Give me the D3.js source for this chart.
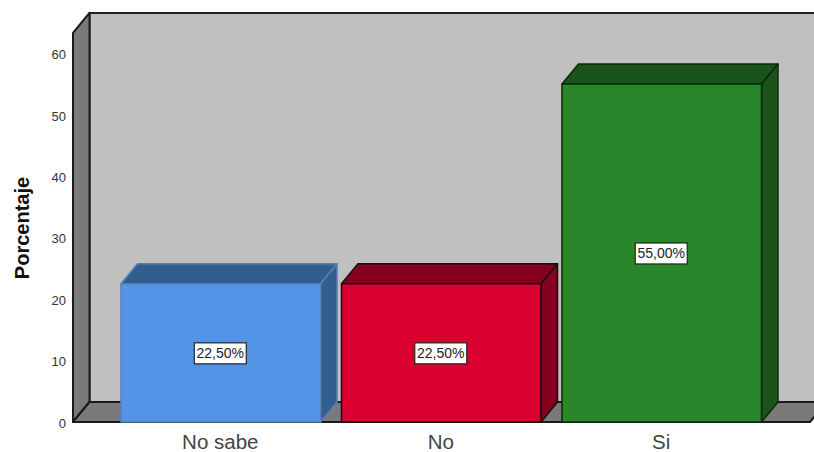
<!DOCTYPE html>
<html>
<head>
<meta charset="utf-8">
<script src="https://cdn.jsdelivr.net/npm/d3@7"></script>
<style>
html,body{margin:0;padding:0;background:#fff;overflow:hidden}
svg{display:block}
text{font-family:"Liberation Sans",Arial,sans-serif}
</style>
</head>
<body>
<svg id="c" width="814" height="452"></svg>
<script>
const categories = ["No sabe", "No", "Si"];
const values = [22.5, 22.5, 55];
const valueLabels = ["22,50%", "22,50%", "55,00%"];
const frontColors = ["#5494e6", "#d90030", "#2a862a"];
const sideColors = ["#345d8f", "#84001e", "#1a541a"];
const strokeColors = ["#5580b0", "#111111", "#0c2a0c"];
const yTicks = [0, 10, 20, 30, 40, 50, 60];
const yTitle = "Porcentaje";

const svg = d3.select("#c");
const W = 814, H = 452;
const depthX = 16.5, depthY = 20;
const y = d3.scaleLinear().domain([0, 60]).range([422, 53.2]);
const x = d3.scaleBand().domain(categories).range([121, 761.5]).paddingInner(0.095).paddingOuter(0);
const plotLeft = 73, plotRight = 810, plotTop = y(63.3), plotBase = y(0);
const poly = (pts, fill, stroke, sw) => svg.append("path")
  .attr("d", "M" + pts.map(p => p.join(",")).join("L") + "Z")
  .attr("fill", fill).attr("stroke", stroke).attr("stroke-width", sw).attr("stroke-linejoin", "round");

// back wall
poly([[plotLeft + depthX, plotTop - depthY], [W + 10, plotTop - depthY], [W + 10, plotBase - depthY], [plotLeft + depthX, plotBase - depthY]], "#c0c0c0", "#222", 2);
// left wall
poly([[plotLeft, plotTop], [plotLeft + depthX, plotTop - depthY], [plotLeft + depthX, plotBase - depthY], [plotLeft, plotBase]], "#7a7a7a", "#1a1a1a", 2);
// floor
poly([[plotLeft, plotBase], [plotLeft + depthX, plotBase - depthY], [plotRight + depthX, plotBase - depthY], [plotRight, plotBase]], "#7a7a7a", "#1a1a1a", 2);

// y axis
svg.append("g").attr("class", "y-axis")
  .attr("transform", `translate(${plotLeft},0)`)
  .call(d3.axisLeft(y).tickValues(yTicks).tickSize(0).tickPadding(7).tickFormat(d3.format("d")))
  .call(g => g.select(".domain").remove())
  .call(g => g.selectAll("line").remove())
  .call(g => g.selectAll("text").attr("font-size", 13).attr("fill", "#333").attr("transform", "translate(0,1.2)").attr("font-family", "Liberation Sans, Arial, sans-serif"));

svg.append("text")
  .attr("transform", `translate(29,228) rotate(-90)`)
  .attr("text-anchor", "middle")
  .attr("font-size", 20).attr("font-weight", "bold").attr("fill", "#111")
  .text(yTitle);

// bars
categories.forEach((c, i) => {
  const x0 = x(c), x1 = x0 + x.bandwidth(), yt = y(values[i]);
  const st = strokeColors[i];
  poly([[x0, yt], [x0 + depthX, yt - depthY], [x1 + depthX, yt - depthY], [x1, yt]], sideColors[i], st, 1.5);
  poly([[x1, yt], [x1 + depthX, yt - depthY], [x1 + depthX, plotBase - depthY], [x1, plotBase]], sideColors[i], st, 1.5);
  poly([[x0, yt], [x1, yt], [x1, plotBase], [x0, plotBase]], frontColors[i], st, 1.5);
  const cx = (x0 + x1) / 2 - 0.5, cy = y(values[i] / 2) + 0.5;
  svg.append("rect").attr("x", cx - 26).attr("y", cy - 10.5).attr("width", 52).attr("height", 21)
    .attr("fill", "#fff").attr("stroke", "#222").attr("stroke-width", 1.2);
  svg.append("text").attr("x", cx).attr("y", cy + 5).attr("text-anchor", "middle")
    .attr("font-size", 14).attr("fill", "#222").text(valueLabels[i]);
});

// x axis labels
const xAxis = svg.append("g").attr("transform", `translate(-0.5,${plotBase})`)
  .call(d3.axisBottom(x).tickSize(0).tickPadding(12));
xAxis.select(".domain").remove();
xAxis.selectAll("text").attr("font-size", 20.5).attr("fill", "#444").attr("font-family", "Liberation Sans, Arial, sans-serif");
</script>
</body>
</html>
